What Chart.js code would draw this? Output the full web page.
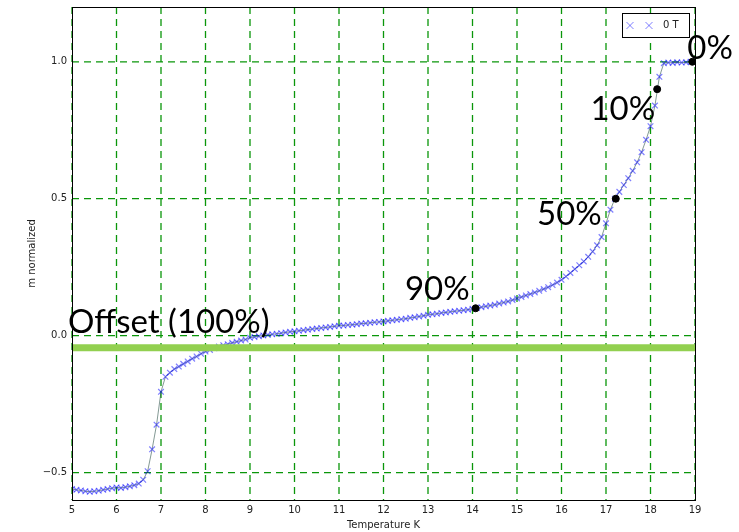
<!DOCTYPE html>
<html>
<head>
<meta charset="utf-8">
<script src="https://cdn.jsdelivr.net/npm/chart.js@4"></script>
<style>
  html, body { margin: 0; padding: 0; background: #fff; }
  #wrap { width: 739px; height: 532px; }
</style>
</head>
<body>
<div id="wrap"><canvas id="myChart" width="739" height="532"></canvas></div>
<script>
const ctx = document.getElementById('myChart').getContext('2d');

// temperature sweep (K) and normalized moment at 0 T
const temps = [
  5.0, 5.1, 5.2, 5.3, 5.4, 5.5, 5.6, 5.7, 5.8, 5.9,
  6.0, 6.1, 6.2, 6.3, 6.4, 6.5, 6.6, 6.7, 6.8, 6.9,
  7.0, 7.1, 7.2, 7.3, 7.4, 7.5, 7.6, 7.7, 7.8, 7.9,
  8.0, 8.1, 8.2, 8.3, 8.4, 8.5, 8.6, 8.7, 8.8, 8.9,
  9.0, 9.1, 9.2, 9.3, 9.4, 9.5, 9.6, 9.7, 9.8, 9.9,
  10.0, 10.1, 10.2, 10.3, 10.4, 10.5, 10.6, 10.7, 10.8, 10.9,
  11.0, 11.1, 11.2, 11.3, 11.4, 11.5, 11.6, 11.7, 11.8, 11.9,
  12.0, 12.1, 12.2, 12.3, 12.4, 12.5, 12.6, 12.7, 12.8, 12.9,
  13.0, 13.1, 13.2, 13.3, 13.4, 13.5, 13.6, 13.7, 13.8, 13.9,
  14.0, 14.1, 14.2, 14.3, 14.4, 14.5, 14.6, 14.7, 14.8, 14.9,
  15.0, 15.1, 15.2, 15.3, 15.4, 15.5, 15.6, 15.7, 15.8, 15.9,
  16.0, 16.1, 16.2, 16.3, 16.4, 16.5, 16.6, 16.7, 16.8, 16.9,
  17.0, 17.1, 17.2, 17.3, 17.4, 17.5, 17.6, 17.7, 17.8, 17.9,
  18.0, 18.1, 18.2, 18.3, 18.4, 18.5, 18.6, 18.7, 18.8, 18.9
];
const moment = [
  -0.560, -0.563, -0.565, -0.568, -0.570, -0.568, -0.566, -0.563, -0.560, -0.557,
  -0.554, -0.556, -0.553, -0.550, -0.546, -0.540, -0.526, -0.495, -0.415, -0.325,
  -0.205, -0.150, -0.135, -0.122, -0.113, -0.103, -0.094, -0.084, -0.076, -0.066,
  -0.058, -0.052, -0.046, -0.040, -0.035, -0.031, -0.026, -0.022, -0.018, -0.014,
  -0.008, -0.005, -0.002, 0.001, 0.003, 0.005, 0.007, 0.009, 0.012, 0.014,
  0.016, 0.018, 0.020, 0.022, 0.024, 0.026, 0.028, 0.030, 0.032, 0.034,
  0.036, 0.037, 0.039, 0.040, 0.042, 0.044, 0.045, 0.047, 0.049, 0.050,
  0.052, 0.054, 0.056, 0.058, 0.060, 0.062, 0.065, 0.067, 0.070, 0.073,
  0.076, 0.078, 0.080, 0.083, 0.085, 0.087, 0.089, 0.091, 0.093, 0.095,
  0.098, 0.101, 0.104, 0.107, 0.110, 0.113, 0.117, 0.121, 0.125, 0.130,
  0.136, 0.141, 0.147, 0.152, 0.158, 0.164, 0.170, 0.177, 0.185, 0.194,
  0.204, 0.216, 0.229, 0.243, 0.257, 0.271, 0.288, 0.307, 0.330, 0.360,
  0.410, 0.460, 0.500, 0.525, 0.550, 0.575, 0.602, 0.633, 0.670, 0.715,
  0.765, 0.840, 0.945, 0.995, 0.997, 0.996, 0.998, 0.997, 0.998, 1.000
];

// marked transition points and their labels
const markT = [18.94, 18.15, 17.22, 14.07];
const markM = [1.0, 0.9, 0.5, 0.1];
const markLabels = ['0%', '10%', '50%', '90%'];
// where each label sits relative to its dot (px): dx, dy, align
const markLabelPos = [[-5, -3, 'left'], [-2, 31, 'right'], [-14, 26, 'right'], [-6, -8, 'right']];

// background offset level
const offsetLevel = -0.044;
const offsetLabel = 'Offset (100%)';

const yTicks = [-0.5, 0.0, 0.5, 1.0];
const xTicks = [5, 6, 7, 8, 9, 10, 11, 12, 13, 14, 15, 16, 17, 18, 19];

const gridGreen = '#0a960a';

// dashed green grid, drawn under the data
const dashedGrid = {
    id: 'dashedGrid',
    beforeDatasetsDraw(chart) {
        const c = chart.ctx;
        const a = chart.chartArea;
        const xs = chart.scales.x, ys = chart.scales.y;
        c.save();
        c.strokeStyle = gridGreen;
        c.lineWidth = 1.3;
        c.setLineDash([7, 5]);
        xTicks.forEach(v => {
            const px = xs.getPixelForValue(v);
            c.beginPath(); c.moveTo(px, a.top); c.lineTo(px, a.bottom); c.stroke();
        });
        yTicks.forEach(v => {
            const py = ys.getPixelForValue(v);
            c.beginPath(); c.moveTo(a.left, py); c.lineTo(a.right, py); c.stroke();
        });
        c.restore();
    }
};

// box around the plot, legend and the big annotations
const annotate = {
    id: 'annotate',
    afterDatasetsDraw(chart) {
        const c = chart.ctx;
        const a = chart.chartArea;
        const xs = chart.scales.x, ys = chart.scales.y;
        c.save();
        c.strokeStyle = '#000';
        c.lineWidth = 1;
        c.strokeRect(Math.round(a.left) + 0.5, Math.round(a.top) + 0.5,
                     Math.round(a.right - a.left), Math.round(a.bottom - a.top));

        // legend
        const lx = 622, ly = 13, lw = 67, lh = 24;
        c.fillStyle = '#fff';
        c.fillRect(lx, ly, lw, lh);
        c.strokeRect(lx + 0.5, ly + 0.5, lw, lh);
        c.strokeStyle = 'rgba(0,0,255,0.5)';
        [630, 649].forEach(px => {
            c.beginPath();
            c.moveTo(px - 3.5, ly + 9); c.lineTo(px + 3.5, ly + 16);
            c.moveTo(px + 3.5, ly + 9); c.lineTo(px - 3.5, ly + 16);
            c.stroke();
        });
        c.fillStyle = '#222';
        c.font = '10px "DejaVu Sans"';
        c.textBaseline = 'middle';
        c.textAlign = 'left';
        c.fillText('0 T', 663, ly + 12.5);

        // big labels
        c.fillStyle = '#000';
        c.font = '33px Lato';
        c.textBaseline = 'alphabetic';
        markLabels.forEach((t, i) => {
            const px = xs.getPixelForValue(markT[i]);
            const py = ys.getPixelForValue(markM[i]);
            const p = markLabelPos[i];
            c.textAlign = p[2];
            c.fillText(t, px + p[0], py + p[1]);
        });
        c.textAlign = 'left';
        c.fillText(offsetLabel, a.left - 4, ys.getPixelForValue(offsetLevel) - 15);
        c.restore();
    }
};

const myChart = new Chart(ctx, {
    type: 'scatter',
    data: {
        datasets: [
            {
                label: 'offset',
                data: [{ x: 5, y: offsetLevel }, { x: 19, y: offsetLevel }],
                showLine: true,
                borderColor: '#92d050',
                borderWidth: 7,
                pointRadius: 0,
                order: 1
            },
            {
                label: 'marks',
                data: markT.map((t, i) => ({ x: t, y: markM[i] })),
                pointStyle: 'circle',
                pointRadius: 3.5,
                backgroundColor: '#000',
                borderColor: '#000',
                order: 0
            },
            {
                label: '0 T',
                data: temps.map((t, i) => ({ x: t, y: moment[i] })),
                showLine: true,
                borderColor: 'rgba(30,70,60,0.55)',
                borderWidth: 1,
                pointStyle: 'crossRot',
                pointRadius: 4,
                pointBorderWidth: 1.2,
                pointBorderColor: 'rgba(0,0,255,0.5)',
                order: 2
            }
        ]
    },
    options: {
        responsive: false,
        animation: false,
        layout: { padding: { left: 0, top: 7, right: 44, bottom: 0 } },
        plugins: {
            legend: { display: false },
            tooltip: { enabled: false }
        },
        scales: {
            x: {
                type: 'linear',
                min: 5,
                max: 19,
                afterFit: s => { s.height = 32; s.paddingLeft = 0; s.paddingRight = 0; },
                afterBuildTicks: s => { s.ticks = xTicks.map(v => ({ value: v })); },
                ticks: { color: '#222', font: { family: 'DejaVu Sans', size: 10 }, padding: 4, maxRotation: 0 },
                grid: { display: false, drawTicks: false },
                border: { color: '#000', display: true },
                title: { display: true, text: 'Temperature K', color: '#222',
                         font: { family: 'DejaVu Sans', size: 10 }, padding: { top: 2, bottom: 1 } }
            },
            y: {
                type: 'linear',
                min: -0.6,
                max: 1.2,
                afterFit: s => { s.width = 72; s.paddingTop = 0; s.paddingBottom = 0; },
                afterBuildTicks: s => { s.ticks = yTicks.map(v => ({ value: v })); },
                ticks: {
                    color: '#222',
                    font: { family: 'DejaVu Sans', size: 10 },
                    padding: 5,
                    callback: v => v.toFixed(1).replace('-', '\u2212')
                },
                grid: { display: false, drawTicks: false },
                border: { color: '#000', display: true },
                title: { display: true, text: 'm normalized', color: '#222',
                         font: { family: 'DejaVu Sans', size: 10 }, padding: { top: 26, bottom: 0 } }
            }
        }
    },
    plugins: [dashedGrid, annotate]
});
</script>
</body>
</html>
